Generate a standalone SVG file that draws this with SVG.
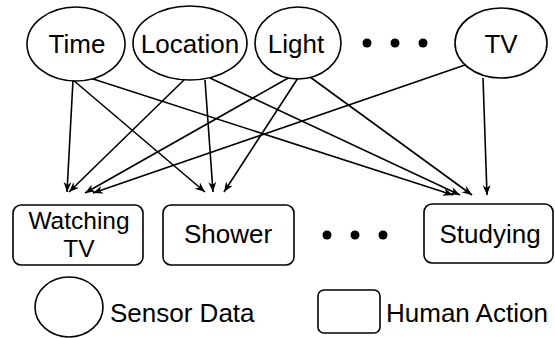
<svg xmlns="http://www.w3.org/2000/svg" width="555" height="338" viewBox="0 0 555 338">
<defs>
<marker id="ah" viewBox="0 0 10 8" refX="10" refY="4" markerWidth="10" markerHeight="8" markerUnits="userSpaceOnUse" orient="auto">
<path d="M0,0 L10,4 L0,8 L3,4 z" fill="#000"/>
</marker>
</defs>
<style>
.n{fill:#fff;stroke:#000;stroke-width:1.6}
.t{font-family:"Liberation Sans",Arial,sans-serif;font-size:26px;fill:#000}
.s{font-size:24.5px}
.m{text-anchor:middle}
.e{stroke:#000;stroke-width:1.6;fill:none;marker-end:url(#ah)}
.d{fill:#000}
</style>
<rect width="555" height="338" fill="#fff"/>
<g id="connectors">
<line class="e" x1="73" y1="80" x2="67" y2="192"/>
<line class="e" x1="73" y1="80" x2="205" y2="192"/>
<line class="e" x1="90" y1="78" x2="453" y2="195"/>
<line class="e" x1="185" y1="79" x2="69" y2="192"/>
<line class="e" x1="205" y1="80" x2="213" y2="192"/>
<line class="e" x1="210" y1="78" x2="460" y2="195"/>
<line class="e" x1="290" y1="77" x2="85" y2="193"/>
<line class="e" x1="298" y1="78" x2="224" y2="192"/>
<line class="e" x1="310" y1="77" x2="472" y2="195"/>
<line class="e" x1="465" y1="65" x2="93" y2="193"/>
<line class="e" x1="483" y1="78" x2="487" y2="195"/>
</g>
<g id="time"><ellipse class="n" cx="76" cy="44" rx="49" ry="37"/><text class="t m" x="77" y="53">Time</text></g>
<g id="location"><ellipse class="n" cx="190" cy="43" rx="57" ry="37"/><text class="t m" x="190" y="53">Location</text></g>
<g id="light"><ellipse class="n" cx="298" cy="43" rx="43" ry="36"/><text class="t m" x="296" y="53">Light</text></g>
<g id="sensor-dots"><circle class="d" cx="367" cy="43" r="4.5"/><circle class="d" cx="395" cy="43" r="4.5"/><circle class="d" cx="423" cy="43" r="4.5"/></g>
<g id="tv"><ellipse class="n" cx="501" cy="43" rx="46" ry="35"/><text class="t m" x="501" y="53">TV</text></g>
<g id="watching-tv"><rect class="n" x="13" y="205" width="130" height="60" rx="8"/><text class="t s m" x="79" y="229">Watching</text><text class="t s m" x="79" y="257">TV</text></g>
<g id="shower"><rect class="n" x="163" y="205" width="131" height="60" rx="8"/><text class="t m" x="228" y="243">Shower</text></g>
<g id="action-dots"><circle class="d" cx="327" cy="235" r="4.5"/><circle class="d" cx="355" cy="235" r="4.5"/><circle class="d" cx="383" cy="235" r="4.5"/></g>
<g id="studying"><rect class="n" x="424" y="204" width="129" height="59" rx="8"/><text class="t m" x="490" y="243">Studying</text></g>
<g id="legend-sensor"><ellipse class="n" cx="69" cy="307" rx="34" ry="30"/><text class="t" x="110" y="322">Sensor Data</text></g>
<g id="legend-action"><rect class="n" x="318" y="290" width="62" height="43" rx="6"/><text class="t" x="386" y="322">Human Action</text></g>
</svg>
